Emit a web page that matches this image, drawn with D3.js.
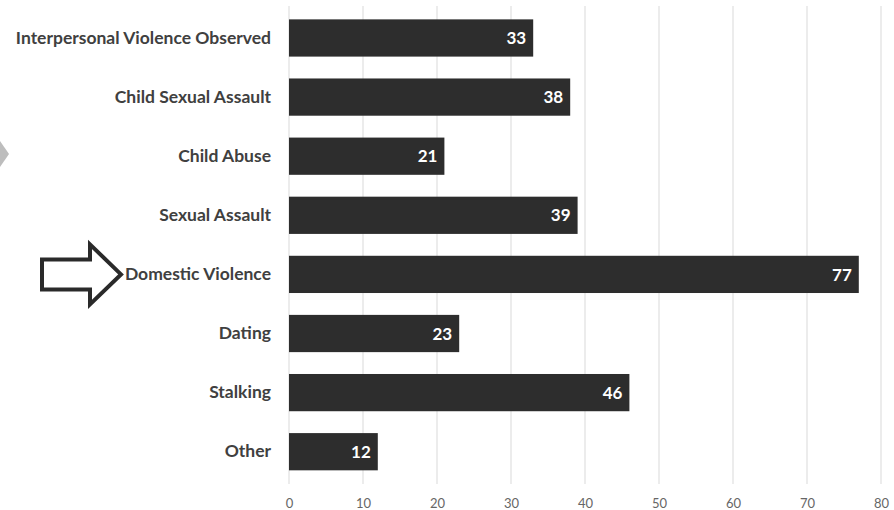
<!DOCTYPE html>
<html><head><meta charset="utf-8">
<script src="https://cdn.jsdelivr.net/npm/d3@7"></script>
<style>body{margin:0;background:#fff}svg{display:block}</style>
</head><body>
<svg id="c" width="894" height="510"></svg>
<script>
const categories = ["Interpersonal Violence Observed","Child Sexual Assault","Child Abuse","Sexual Assault","Domestic Violence","Dating","Stalking","Other"];
const values = [33,38,21,39,77,23,46,12];
const ticks = [0,10,20,30,40,50,60,70,80];

const svg = d3.select("#c");
const x = d3.scaleLinear().domain([0,80]).range([289,881]);
const y = d3.scaleBand().domain(categories).range([-2.5,492.2]).padding(0.37);

// gridlines
svg.append("g").selectAll("line").data(ticks).join("line")
  .attr("x1",d=>x(d)).attr("x2",d=>x(d)).attr("y1",6).attr("y2",484)
  .attr("stroke","#d9d9d9").attr("stroke-width",1);

// x axis labels
const ax = svg.append("g").attr("transform","translate(0,503)")
  .call(d3.axisBottom(x).tickValues(ticks).tickSize(0).tickPadding(0));
ax.select(".domain").remove();
ax.selectAll("text").attr("dy","0.35em").attr("fill","#666")
  .style("font-family","Lato, 'Open Sans', sans-serif").style("font-size","13px");

// bars
svg.append("g").selectAll("rect").data(categories).join("rect")
  .attr("x",x(0)).attr("y",d=>y(d)).attr("height",y.bandwidth())
  .attr("width",(d,i)=>x(values[i])-x(0)).attr("fill","#2d2d2d");

// value labels
svg.append("g").selectAll("text").data(categories).join("text")
  .attr("x",(d,i)=>x(values[i])-7).attr("y",d=>y(d)+y.bandwidth()/2)
  .attr("dy","0.36em").attr("text-anchor","end").attr("fill","#fff")
  .style("font-family","Lato, sans-serif").style("font-weight","bold").style("font-size","17px")
  .text((d,i)=>values[i]);

// category labels
const yax = svg.append("g").attr("transform","translate(271,0)")
  .call(d3.axisLeft(y).tickSize(0).tickPadding(0));
yax.select(".domain").remove();
yax.selectAll("text").attr("fill","#404040")
  .style("font-family","Lato, sans-serif").style("font-weight","bold").style("font-size","17.5px");

// outlined arrow pointing at Domestic Violence
const ac = y("Domestic Violence") + y.bandwidth()/2;
const arrow = [[42,-15],[90,-15],[90,-30],[121,0],[90,30],[90,15],[42,15]];
svg.append("polygon")
  .attr("points",arrow.map(p=>[p[0],ac+p[1]].join(",")).join(" "))
  .attr("fill","#fff").attr("stroke","#2a2a2a").attr("stroke-width",4).attr("stroke-linejoin","miter");

// gray chevron at the left edge
svg.append("polygon").attr("points","0,141 9,154 0,167").attr("fill","#bdbdbd");
</script>
</body></html>
